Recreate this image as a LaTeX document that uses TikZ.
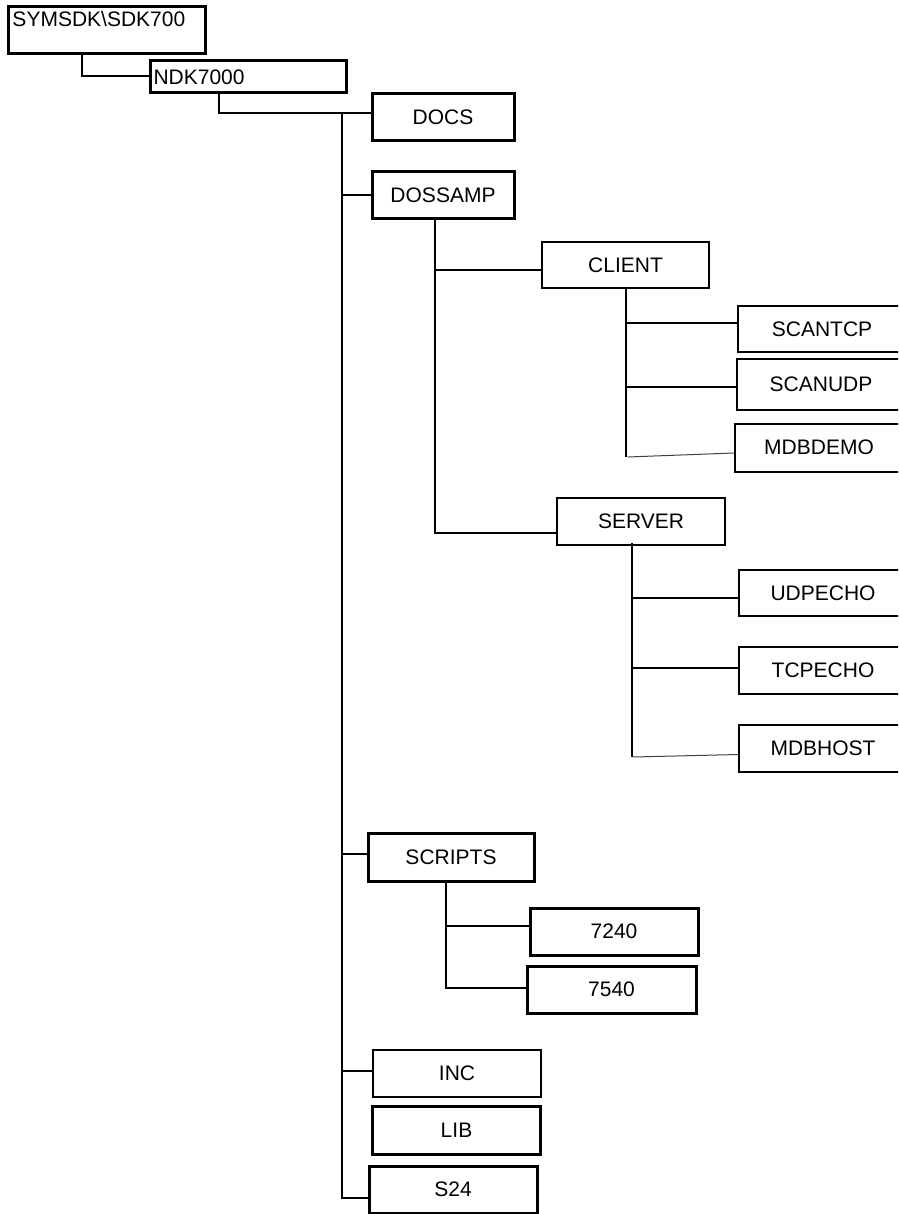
\documentclass[tikz,border=0pt]{standalone}
\usepackage{fontspec}
\setmainfont{Liberation Sans}
\usetikzlibrary{positioning}

\tikzset{
  dirbox/.style={draw, line width=2pt, inner sep=0pt, minimum width=168, minimum height=47,
                 font=\fontsize{21}{25}\selectfont},
  dirthick/.style={dirbox, line width=3pt},
  topbox/.style={draw, line width=3pt, anchor=north west, align=left, inner ysep=2pt,
                 font=\fontsize{21}{25}\selectfont},
  link/.style={line width=2pt},
  faint/.style={line width=1pt, black!75}
}

\begin{document}
\begin{tikzpicture}[x=1pt, y=-1pt]
      \useasboundingbox (0,0) rectangle (898,1214);
      \clip (0,0) rectangle (898,1214);

      % top levels, text at the top left
      \node[topbox, inner xsep=4pt, text width=189, text height=18, text depth=25] (sym) at (7,5) {SYMSDK\textbackslash SDK700};
      \node[topbox, inner xsep=3pt, text width=190, text height=22, text depth=6] (ndk) at (149,59) {NDK7000};

      % first level under NDK7000
      \node[dirthick, minimum width=142] (docs) at (443,117) {DOCS};
      \node[dirthick, minimum width=142] (dossamp) at (443,195.5) {DOSSAMP};
      \node[dirthick, minimum width=166, minimum height=48] (scripts) at (451,857) {SCRIPTS};
      \node[dirbox] (inc) at (457,1073.5) {INC};
      \node[dirthick, minimum height=48] (lib) at (456.5,1130) {LIB};
      \node[dirthick] (s24) at (453,1189.5) {S24};

      % DOSSAMP
      \node[dirbox, minimum width=167, minimum height=46] (client) at (625.5,265) {CLIENT};
      \node[dirbox] (server) at (641,521.5) {SERVER};
      \node[dirbox, minimum height=46] (scantcp) at (822,329) {SCANTCP};
      \node[dirbox, minimum height=51] (scanudp) at (821,384.5) {SCANUDP};
      \node[dirbox, minimum height=48] (mdbdemo) at (819,447.5) {MDBDEMO};
      \node[dirbox, minimum height=46] (udpecho) at (823,593) {UDPECHO};
      \node[dirbox] (tcpecho) at (823,670.5) {TCPECHO};
      \node[dirbox] (mdbhost) at (823,748.5) {MDBHOST};

      % SCRIPTS
      \node[dirthick] (s7240) at (614,931.5) {7240};
      \node[dirthick, minimum width=169] (s7540) at (611.5,989.5) {7540};

      % connectors
      \coordinate (trunk) at (342,113);
      \draw[link] ([xshift=75]sym.south west) |- (ndk.west);
      \draw[link] ([xshift=70]ndk.south west) |- ([yshift=4]docs.west);
      \draw[link] (trunk) |- (dossamp.west);
      \draw[link] (trunk) |- ([yshift=3]scripts.west);
      \draw[link] (trunk) |- ([yshift=2.5]inc.west);
      \draw[link] (trunk) |- ([yshift=-8.5]s24.west);

      \coordinate (dsjoin) at ([xshift=-8]dossamp.south);
      \draw[link] (dsjoin) |- ([yshift=-5]client.west);
      \draw[link] (dsjoin) |- ([yshift=-11.5]server.west);

      \draw[link] (client.south) |- ([yshift=6]scantcp.west);
      \draw[link] (client.south) |- ([yshift=-2.5]scanudp.west);
      \draw[link] (client.south) -- ++(0,168) coordinate (clend);
      \draw[faint] ([xshift=2]clend) -- ([yshift=-5.5]mdbdemo.west);

      \coordinate (svjoin) at ([xshift=-9,yshift=3]server.south);
      \draw[link] (svjoin) |- ([yshift=-5]udpecho.west);
      \draw[link] (svjoin) |- ([yshift=2.5]tcpecho.west);
      \draw[link] (svjoin) -- ++(0,214) coordinate (svend);
      \draw[faint] ([xshift=1]svend) -- ([yshift=-6]mdbhost.west);

      \coordinate (scjoin) at ([xshift=-5]scripts.south);
      \draw[link] (scjoin) |- ([yshift=5.5]s7240.west);
      \draw[link] (scjoin) |- ([yshift=1.5]s7540.west);
\end{tikzpicture}
\end{document}
